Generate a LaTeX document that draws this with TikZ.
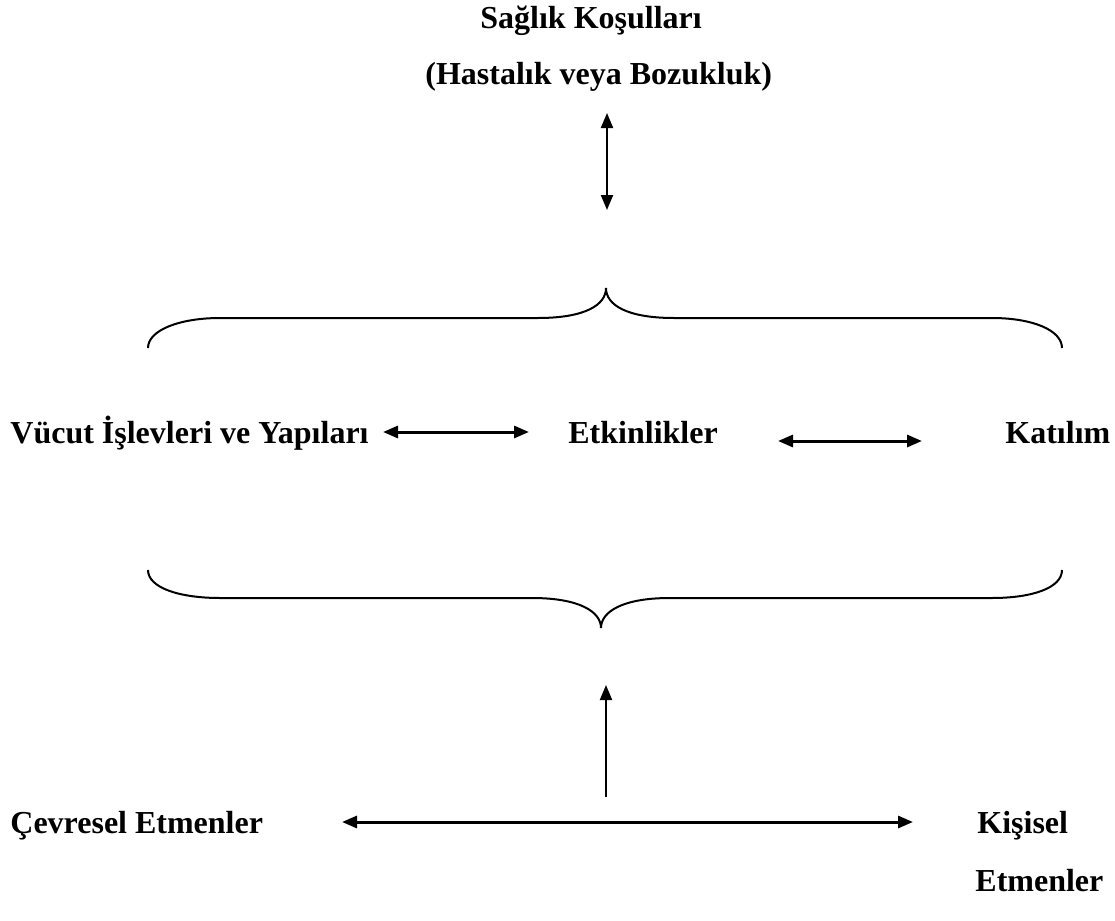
\documentclass[tikz,border=0pt]{standalone}
\usepackage{fontspec}
\setmainfont{Liberation Serif}
\usetikzlibrary{arrows.meta}
\begin{document}
\begin{tikzpicture}[x=0.5pt,y=-0.5pt,
  lbl/.style={anchor=base west,inner sep=0pt,font=\fontsize{16}{19}\selectfont\bfseries},
  thin2/.style={line width=1pt,{Triangle[length=7.5pt,width=6pt]}-{Triangle[length=7.5pt,width=6pt]}},
  thick2/.style={line width=1.5pt,{Triangle[length=7.5pt,width=6pt]}-{Triangle[length=7.5pt,width=6pt]}},
  up1/.style={line width=1pt,-{Triangle[length=7.5pt,width=6pt]}},
  brace/.style={line width=1pt}]
\useasboundingbox (0,0) rectangle (1115,921);
% texts
\node[lbl] (saglik) at (480,28) {Sağlık Koşulları};
\node[lbl] (hast) at (425,84) {(Hastalık veya Bozukluk)};
\node[lbl] (vucut) at (10,443) {Vücut İşlevleri ve Yapıları};
\node[lbl] (etk) at (568,443) {Etkinlikler};
\node[lbl] (kat) at (1005,443) {Katılım};
\node[lbl] (cev) at (10,833) {Çevresel Etmenler};
\node[lbl] (kis) at (977,833) {Kişisel};
\node[lbl] (etm) at (975,891) {Etmenler};
% arrow ends
\coordinate (a1) at (607,113);
\coordinate (a2) at (607,210);
\coordinate (b1) at (383,432);
\coordinate (b2) at (529,432);
\coordinate (c1) at (778,441);
\coordinate (c2) at (922,441);
\coordinate (d1) at (606,797);
\coordinate (d2) at (606,685);
\coordinate (e1) at (342,822);
\coordinate (e2) at (913,822);
\draw[thin2] (a1) -- (a2);
\draw[thick2] (b1) -- (b2);
\draw[thick2] (c1) -- (c2);
\draw[up1] (d1) -- (d2);
\draw[thick2] (e1) -- (e2);
% upper brace
\draw[brace] (148,348) .. controls (148,330) and (180,318) .. (220,318) -- (538,318)
  .. controls (585,318) and (606,305) .. (606,288)
  .. controls (606,305) and (627,318) .. (674,318) -- (992,318)
  .. controls (1032,318) and (1062,330) .. (1062,348);
% lower brace
\draw[brace] (148,570) .. controls (148,588) and (180,598) .. (220,598) -- (532,598)
  .. controls (580,598) and (601,612) .. (601,628)
  .. controls (601,612) and (622,598) .. (670,598) -- (992,598)
  .. controls (1032,598) and (1062,588) .. (1062,570);
\end{tikzpicture}
\end{document}
